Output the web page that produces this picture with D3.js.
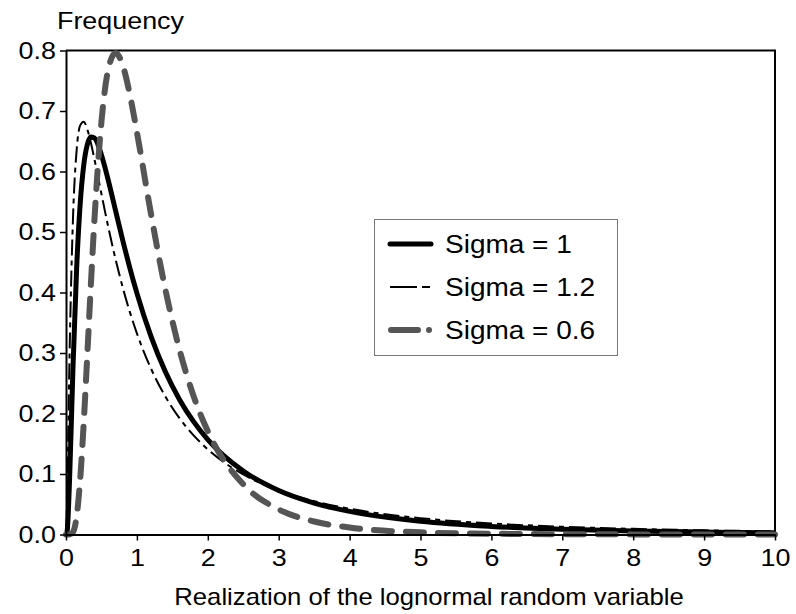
<!DOCTYPE html>
<html>
<head>
<meta charset="utf-8">
<script src="https://cdn.jsdelivr.net/npm/d3@7"></script>
<style>
  body { margin: 0; background: #fff; }
  text { font-family: "Liberation Sans", Arial, sans-serif; fill: #000; }
</style>
</head>
<body>
<div id="chart"></div>
<script>
// x positions read along the axis, and the frequency of each curve at them
var xValues = [0, 0.01, 0.02, 0.05, 0.1, 0.15, 0.2, 0.25, 0.3, 0.35, 0.4, 0.5, 0.6, 0.7, 0.8, 0.9, 1.0,
               1.2, 1.4, 1.6, 1.8, 2.0, 2.5, 3, 3.5, 4, 5, 6, 7, 8, 9, 10];
var sigma1 = [0, 0.001, 0.0095, 0.0898, 0.2815, 0.440, 0.5463, 0.6104, 0.6442, 0.657, 0.6555, 0.6274, 0.5836,
              0.5348, 0.4864, 0.4408, 0.3989, 0.3270, 0.2693, 0.2233, 0.1865, 0.1569, 0.1049, 0.0727, 0.0520,
              0.0382, 0.0219, 0.0134, 0.0086, 0.0057, 0.0040, 0.0028];
var sigma12 = [0, 0.0211, 0.0818, 0.2948, 0.5276, 0.6352, 0.6762, 0.6823, 0.6699, 0.6478, 0.6209, 0.5627, 0.5061,
               0.4544, 0.4084, 0.3680, 0.3325, 0.2739, 0.2283, 0.1924, 0.1638, 0.1407, 0.0993, 0.0729, 0.0551,
               0.0426, 0.0270, 0.0182, 0.0128, 0.0093, 0.0069, 0.0053];
var sigma06 = [0, 0, 0, 0.0001, 0.0042, 0.0299, 0.0911, 0.1844, 0.2959, 0.4112, 0.5180, 0.6823, 0.7713,
               0.7960, 0.7756, 0.7275, 0.6649, 0.5291, 0.4058, 0.3058, 0.2286, 0.1706, 0.0829, 0.0415, 0.0215,
               0.0115, 0.0036, 0.0013, 0.0005, 0.0002, 0.0001, 0.0001];
var seriesNames = ["Sigma = 1", "Sigma = 1.2", "Sigma = 0.6"];
var xTicks = [0, 1, 2, 3, 4, 5, 6, 7, 8, 9, 10];
var yTicks = [0, 0.1, 0.2, 0.3, 0.4, 0.5, 0.6, 0.7, 0.8];

var width = 796,
    height = 614,
    margin = {top: 50.5, right: 21, bottom: 79.5, left: 66},
    fontSize = 24,
    stretch = 1.12; // the text in the picture is a little wide

var svg = d3.select('#chart')
    .append('svg')
    .attr('width', width)
    .attr('height', height);

var x = d3.scaleLinear()
    .domain([0, 10])
    .range([margin.left, width - margin.right]);

var y = d3.scaleLinear()
    .domain([0, 0.8])
    .range([height - margin.bottom, margin.top]);

// top and right frame
svg.append('path')
    .attr('d', 'M' + x(0) + ',' + y(0.8) + 'H' + x(10) + 'V' + y(0))
    .attr('fill', 'none')
    .attr('stroke', '#000')
    .attr('stroke-width', 2);

var series = [
    {name: seriesNames[0], values: sigma1, color: '#000', width: 5, dash: null, cap: 'butt'},
    {name: seriesNames[1], values: sigma12, color: '#000', width: 2, dash: '16,5,5,5', cap: 'butt'},
    {name: seriesNames[2], values: sigma06, color: '#555', width: 6, dash: '18,14', cap: 'round'}
];

var line = d3.line()
    .x(function (d, i) { return x(xValues[i]); })
    .y(function (d) { return y(d); })
    .curve(d3.curveMonotoneX);

svg.selectAll('path.curve')
    .data(series)
    .enter().append('path')
    .attr('class', 'curve')
    .attr('d', function (d) { return line(d.values); })
    .attr('fill', 'none')
    .attr('stroke', function (d) { return d.color; })
    .attr('stroke-width', function (d) { return d.width; })
    .attr('stroke-dasharray', function (d) { return d.dash; })
    .attr('stroke-linecap', function (d) { return d.cap; })
    .attr('stroke-linejoin', 'round');

// axes
var xAxis = svg.append('g')
    .attr('transform', 'translate(0,' + y(0) + ')')
    .call(d3.axisBottom(x).tickValues(xTicks).tickSize(6).tickSizeOuter(0).tickPadding(8));

var yAxis = svg.append('g')
    .attr('transform', 'translate(' + x(0) + ',0)')
    .call(d3.axisLeft(y).tickValues(yTicks).tickFormat(d3.format('.1f')).tickSize(6).tickSizeOuter(0).tickPadding(3));

[xAxis, yAxis].forEach(function (g) {
    g.select('.domain').attr('stroke', '#000').attr('stroke-width', 2);
    g.selectAll('.tick line').attr('stroke', '#000').attr('stroke-width', 1.5);
    g.selectAll('.tick text')
        .attr('font-size', fontSize)
        .attr('font-family', '"Liberation Sans", Arial, sans-serif')
        .attr('fill', '#000')
        .attr('transform', 'scale(' + stretch + ',1)');
});

// titles
svg.append('text')
    .attr('transform', 'translate(57,29) scale(' + stretch + ',1)')
    .attr('font-size', fontSize)
    .text('Frequency');

svg.append('text')
    .attr('transform', 'translate(429,605) scale(1.07,1)')
    .attr('text-anchor', 'middle')
    .attr('font-size', fontSize)
    .text('Realization of the lognormal random variable');

// legend
var rowY = [244, 287, 330];

var legend = svg.append('g');
legend.append('rect')
    .attr('x', 374.5).attr('y', 219.5)
    .attr('width', 243).attr('height', 136)
    .attr('fill', '#fff')
    .attr('stroke', '#777')
    .attr('stroke-width', 1);

legend.append('line')
    .attr('x1', 390).attr('x2', 431).attr('y1', rowY[0]).attr('y2', rowY[0])
    .attr('stroke', '#000').attr('stroke-width', 5).attr('stroke-linecap', 'round');

legend.append('line')
    .attr('x1', 390).attr('x2', 417).attr('y1', rowY[1]).attr('y2', rowY[1])
    .attr('stroke', '#000').attr('stroke-width', 2);
legend.append('line')
    .attr('x1', 422).attr('x2', 430).attr('y1', rowY[1]).attr('y2', rowY[1])
    .attr('stroke', '#000').attr('stroke-width', 2);

legend.append('line')
    .attr('x1', 391).attr('x2', 418).attr('y1', rowY[2]).attr('y2', rowY[2])
    .attr('stroke', '#555').attr('stroke-width', 6).attr('stroke-linecap', 'round');
legend.append('circle')
    .attr('cx', 429).attr('cy', rowY[2]).attr('r', 3)
    .attr('fill', '#555');

legend.selectAll('text')
    .data(seriesNames)
    .enter().append('text')
    .attr('transform', function (d, i) {
        return 'translate(445,' + (rowY[i] + 9) + ') scale(' + stretch + ',1)';
    })
    .attr('font-size', 25)
    .text(function (d) { return d; });
</script>
</body>
</html>
